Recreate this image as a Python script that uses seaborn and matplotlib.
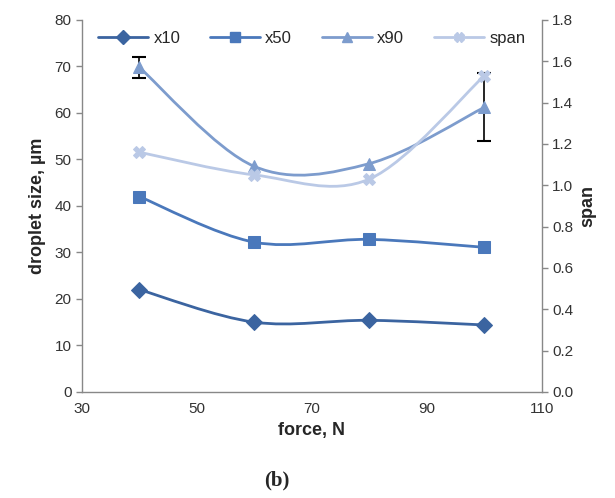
import numpy as np
import pandas as pd
import seaborn as sns
import matplotlib.pyplot as plt
from matplotlib.path import Path
from matplotlib.patches import PathPatch
from matplotlib.lines import Line2D

# values
force = [40, 60, 80, 100]
x10 = [22.0, 15.0, 15.4, 14.4]
x50 = [42.0, 32.2, 32.8, 31.1]
x90 = [69.8, 48.5, 49.1, 61.2]
x90_err = [2.3, 0, 0, 7.3]
span = [1.16, 1.05, 1.03, 1.53]

colors = {'x10': '#3b64a0', 'x50': '#4a78bb', 'x90': '#7d9ccd', 'span': '#bac9e6'}
markers = {'x10': 'D', 'x50': 's', 'x90': '^', 'span': 'X'}

sns.set_style("white")
plt.rcParams['font.family'] = ['Liberation Sans', 'DejaVu Sans']


def smooth_path(ax, xs, ys, color):
    # excel-style smoothed line: cubic bezier through the data points
    xs = np.asarray(xs, float)
    ys = np.asarray(ys, float)
    pts = np.column_stack([xs, ys])
    verts = [pts[0]]
    codes = [Path.MOVETO]
    t = 1 / 6
    for i in range(len(pts) - 1):
        p0 = pts[i - 1] if i > 0 else pts[i]
        p1, p2 = pts[i], pts[i + 1]
        p3 = pts[i + 2] if i + 2 < len(pts) else pts[i + 1]
        c1 = p1 + (p2 - p0) * t
        c2 = p2 - (p3 - p1) * t
        verts += [c1, c2, p2]
        codes += [Path.CURVE4] * 3
    ax.add_patch(PathPatch(Path(verts, codes), fill=False, edgecolor=color, lw=2))


fig = plt.figure(figsize=(6.15, 4.98), dpi=100)
ax = fig.add_axes([0.133, 0.213, 0.748, 0.747])
ax2 = ax.twinx()

df = pd.DataFrame({'force': force, 'x10': x10, 'x50': x50, 'x90': x90, 'err': x90_err})

# error bars only where there is one
eb = df[df['err'] > 0]
ax.errorbar(eb['force'], eb['x90'], yerr=eb['err'], fmt='none', ecolor='black',
            elinewidth=1.2, capsize=5, capthick=1.5, zorder=1)

for name in ['x10', 'x50', 'x90']:
    smooth_path(ax, force, df[name], colors[name])
    sns.lineplot(data=df, x='force', y=name, ax=ax, color=colors[name], lw=0,
                 marker=markers[name], markersize=9 if name != 'x10' else 8,
                 markeredgecolor=colors[name], zorder=3)

smooth_path(ax2, force, span, colors['span'])
sns.lineplot(x=force, y=span, ax=ax2, color=colors['span'], lw=0,
             marker=markers['span'], markersize=9, markeredgecolor=colors['span'])

ax.set_xlim(30, 110)
ax.set_ylim(0, 80)
ax2.set_ylim(0, 1.8)
ax.set_xticks(range(30, 111, 20))
ax.set_yticks(range(0, 81, 10))
ax2.set_yticks(np.arange(0, 1.81, 0.2))
ax2.set_yticklabels([f"{v:.1f}" for v in np.arange(0, 1.81, 0.2)])

for a in (ax, ax2):
    for s in a.spines.values():
        s.set_visible(False)
    a.tick_params(labelsize=11, colors='#333333', length=4, width=1, direction='out')
ax.spines['left'].set_visible(True)
ax.spines['bottom'].set_visible(True)
ax2.spines['right'].set_visible(True)
for s in (ax.spines['left'], ax.spines['bottom'], ax2.spines['right']):
    s.set_color('#888888')
    s.set_linewidth(1)
ax.tick_params(axis='both', color='#888888')
ax2.tick_params(axis='y', color='#888888')

ax.set_xlabel("force, N", fontsize=13, fontweight='bold', labelpad=4)
ax.set_ylabel("droplet size, µm", fontsize=13, fontweight='bold', labelpad=6)
ax2.set_ylabel("span", fontsize=13, fontweight='bold', labelpad=4)

handles = [Line2D([], [], color=colors[k], lw=2, marker=markers[k], markersize=7,
                  markeredgecolor=colors[k]) for k in ['x10', 'x50', 'x90', 'span']]
ax.legend(handles, ['x10', 'x50', 'x90', 'span'], loc='upper center', ncol=4,
          frameon=False, fontsize=12, handlelength=3.0, columnspacing=1.8,
          handletextpad=0.3, bbox_to_anchor=(0.5, 1.01))

fig.text(0.45, 0.025, "(b)", fontsize=15, fontweight='bold', family='Liberation Serif',
         ha='center')

fig.savefig("out.png", dpi=100)
